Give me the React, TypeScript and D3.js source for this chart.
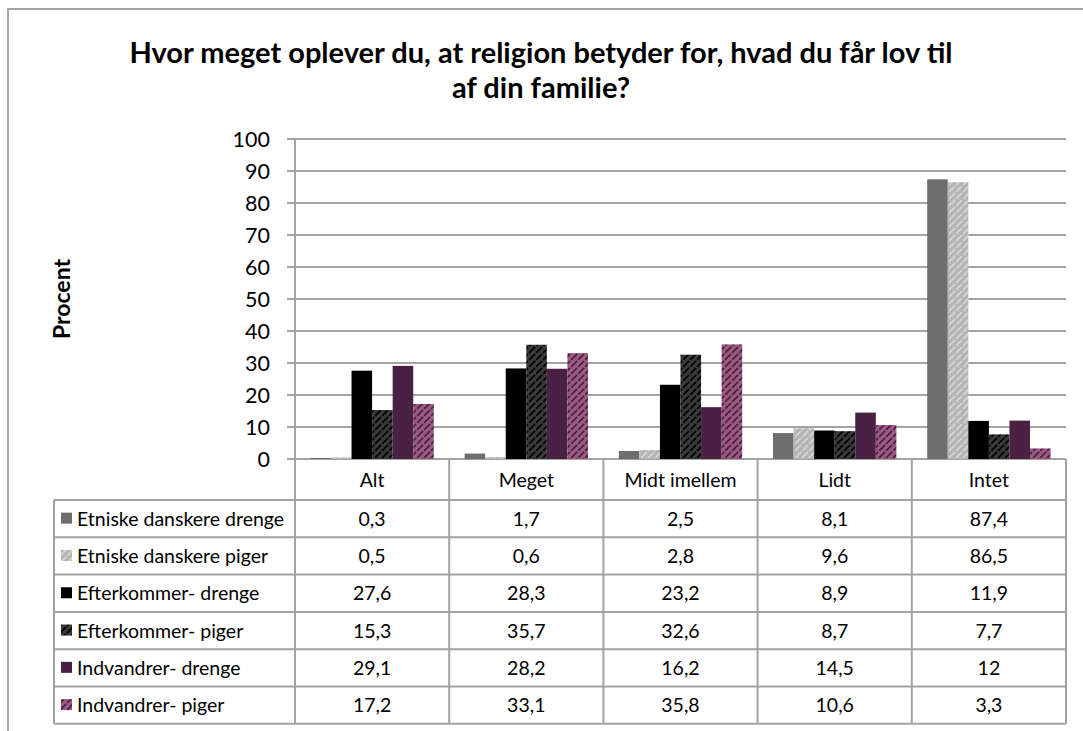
import React from 'react';
import * as d3 from 'd3';

const categories = ['Alt', 'Meget', 'Midt imellem', 'Lidt', 'Intet'];
const seriesNames = [
  'Etniske danskere drenge',
  'Etniske danskere piger',
  'Efterkommer- drenge',
  'Efterkommer- piger',
  'Indvandrer- drenge',
  'Indvandrer- piger',
];
const etnDrenge = [0.3, 1.7, 2.5, 8.1, 87.4];
const etnPiger = [0.5, 0.6, 2.8, 9.6, 86.5];
const efterDrenge = [27.6, 28.3, 23.2, 8.9, 11.9];
const efterPiger = [15.3, 35.7, 32.6, 8.7, 7.7];
const indvDrenge = [29.1, 28.2, 16.2, 14.5, 12];
const indvPiger = [17.2, 33.1, 35.8, 10.6, 3.3];
const seriesValues = [etnDrenge, etnPiger, efterDrenge, efterPiger, indvDrenge, indvPiger];
const tableLabels = [
  ['0,3', '1,7', '2,5', '8,1', '87,4'],
  ['0,5', '0,6', '2,8', '9,6', '86,5'],
  ['27,6', '28,3', '23,2', '8,9', '11,9'],
  ['15,3', '35,7', '32,6', '8,7', '7,7'],
  ['29,1', '28,2', '16,2', '14,5', '12'],
  ['17,2', '33,1', '35,8', '10,6', '3,3'],
];
const yTicks = [0, 10, 20, 30, 40, 50, 60, 70, 80, 90, 100];

const fills = ['#6e6e6e', 'url(#hatchLight)', '#000000', 'url(#hatchDark)', '#4b2143', 'url(#hatchMauve)'];

const FONT = 'Lato, "Open Sans", sans-serif';
const GRID = '#a3a3a3';

const App = () => {
  const left = 295;
  const right = 1066;
  const top = 139;
  const zero = 459;
  const tableLeft = 54;
  const headerBottom = 500;
  const rowH = 37.3;
  const tableBottom = headerBottom + rowH * 6;

  const x = d3.scaleBand().domain(categories).range([left, right]).paddingInner(0).paddingOuter(0);
  const xs = d3
    .scaleBand()
    .domain(seriesNames)
    .range([0, x.bandwidth()])
    .paddingInner(0)
    .paddingOuter(0.75);
  const y = d3.scaleLinear().domain([0, 100]).range([zero, top]);

  // diagonal dashed hatch, like the Excel pattern fills
  const pattern = (id, bg, fg) => (
    <pattern id={id} patternUnits="userSpaceOnUse" width={7} height={7}>
      <rect width={7} height={7} fill={bg} />
      <path d="M0,7 L7,0" stroke={fg} strokeWidth={1.8} strokeDasharray="4.4,1.5" />
      <path d="M-1,1 L1,-1 M6,8 L8,6" stroke={fg} strokeWidth={1.8} />
    </pattern>
  );

  return (
    <svg width={1083} height={731} style={{ position: 'absolute', left: 0, top: 0, background: '#fff' }}>
      <defs>
        {pattern('hatchLight', '#b4b4b4', '#d6d6d6')}
        {pattern('hatchDark', '#3a3a3a', '#000000')}
        {pattern('hatchMauve', '#9b5a82', '#4b2143')}
      </defs>
      <rect x={8} y={9} width={1200} height={800} fill="#fff" stroke={GRID} strokeWidth={2} />

      <text x={541} y={63} textAnchor="middle" fontFamily={FONT} fontWeight="bold" fontSize={29}>
        Hvor meget oplever du, at religion betyder for, hvad du får lov til
      </text>
      <text x={541} y={98} textAnchor="middle" fontFamily={FONT} fontWeight="bold" fontSize={29}>
        af din familie?
      </text>

      <text
        transform={`translate(70, ${(top + zero) / 2}) rotate(-90)`}
        textAnchor="middle"
        fontFamily={FONT}
        fontWeight="bold"
        fontSize={23}
      >
        Procent
      </text>

      {/* gridlines and y axis */}
      {yTicks.map((t) => (
        <g key={t}>
          <line x1={287} x2={right} y1={y(t)} y2={y(t)} stroke={GRID} strokeWidth={2} />
          <text x={270} y={y(t) + 7.5} textAnchor="end" fontFamily={FONT} fontSize={21.5}>
            {t}
          </text>
        </g>
      ))}
      <line x1={left} x2={left} y1={top} y2={tableBottom} stroke={GRID} strokeWidth={2} />

      {/* bars */}
      {seriesValues.map((vals, si) => (
        <g key={si}>
          {vals.map((v, ci) => (
            <rect
              key={ci}
              x={x(categories[ci]) + xs(seriesNames[si])}
              y={y(v)}
              width={xs.bandwidth()}
              height={zero - y(v)}
              fill={fills[si]}
            />
          ))}
        </g>
      ))}

      {/* data table */}
      {categories.map((c) => (
        <g key={c}>
          <line x1={x(c) + x.bandwidth()} x2={x(c) + x.bandwidth()} y1={zero} y2={tableBottom} stroke={GRID} strokeWidth={2} />
          <text x={x(c) + x.bandwidth() / 2} y={487} textAnchor="middle" fontFamily={FONT} fontSize={19.5}>
            {c}
          </text>
        </g>
      ))}
      <line x1={tableLeft} x2={tableLeft} y1={headerBottom} y2={tableBottom} stroke={GRID} strokeWidth={2} />
      {d3.range(7).map((r) => (
        <line
          key={r}
          x1={tableLeft}
          x2={right}
          y1={headerBottom + r * rowH}
          y2={headerBottom + r * rowH}
          stroke={GRID}
          strokeWidth={2}
        />
      ))}
      {seriesNames.map((s, si) => {
        const cy = headerBottom + si * rowH + rowH / 2;
        return (
          <g key={s}>
            <rect x={61} y={cy - 6} width={11} height={11} fill={fills[si]} />
            <text x={77} y={cy + 7} fontFamily={FONT} fontSize={19.5}>
              {s}
            </text>
            {tableLabels[si].map((lab, ci) => (
              <text
                key={ci}
                x={x(categories[ci]) + x.bandwidth() / 2}
                y={cy + 7}
                textAnchor="middle"
                fontFamily={FONT}
                fontSize={19.5}
              >
                {lab}
              </text>
            ))}
          </g>
        );
      })}
    </svg>
  );
};

export default App;
